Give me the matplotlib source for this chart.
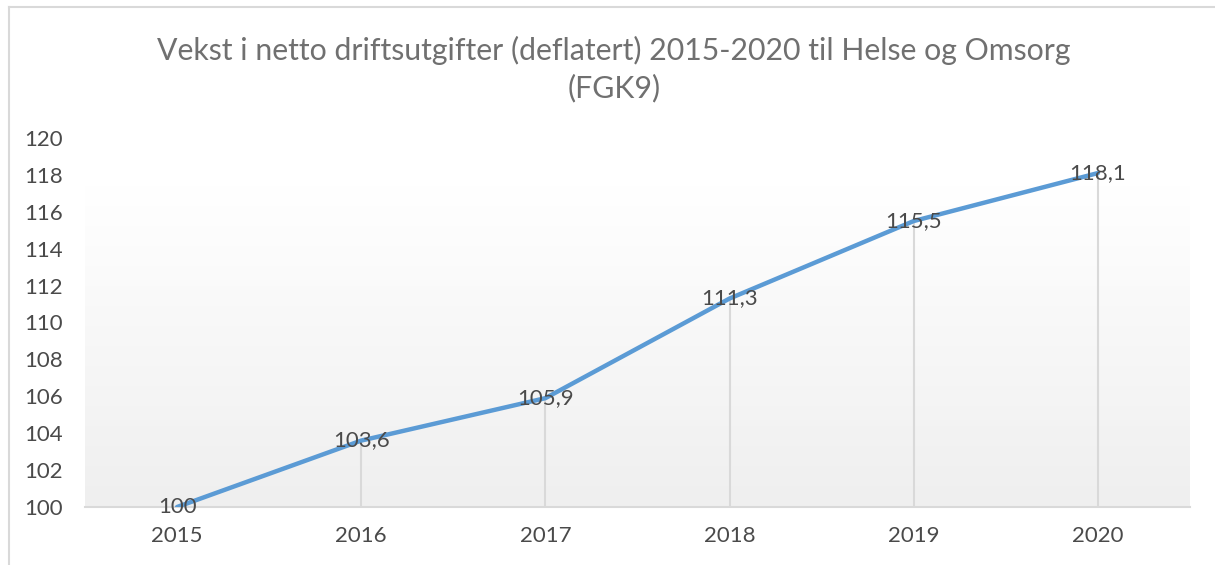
import numpy as np
import matplotlib.pyplot as plt
from matplotlib.colors import LinearSegmentedColormap
from matplotlib.lines import Line2D

years = ["2015", "2016", "2017", "2018", "2019", "2020"]
values = [100, 103.6, 105.9, 111.3, 115.5, 118.1]
value_labels = ["100", "103,6", "105,9", "111,3", "115,5", "118,1"]
yticks = list(range(100, 121, 2))

plt.rcParams["font.family"] = ["Lato", "DejaVu Sans"]

fig = plt.figure(figsize=(12.15, 5.65), dpi=100)
ax = fig.add_axes([85 / 1215, 1 - 507 / 565, 1105 / 1215, 369 / 565])

x = np.arange(len(years))
ax.set_xlim(-0.5, len(years) - 0.5)
ax.set_ylim(100, 120)

# gradient background of the plot area
grad = np.linspace(0, 1, 256).reshape(-1, 1)
cmap = LinearSegmentedColormap.from_list("g", ["#efefef", "#ffffff"])
ax.imshow(grad, cmap=cmap, extent=(-0.5, len(years) - 0.5, 100, 117.4),
          origin="lower", aspect="auto", zorder=0)

# drop lines
ax.vlines(x, 100, values, color="#d9d9d9", lw=1.5, zorder=1)
ax.plot(x, values, color="#5b9bd5", lw=3.2, solid_capstyle="round", zorder=3)

for xi, v, lab in zip(x, values, value_labels):
    ax.text(xi, v, lab, ha="center", va="center", fontsize=16, color="#4a4a4a", zorder=4)

for s in ["top", "right", "left"]:
    ax.spines[s].set_visible(False)
ax.spines["bottom"].set_color("#d9d9d9")
ax.spines["bottom"].set_linewidth(1.5)
ax.set_xticks(x)
ax.set_xticklabels(years)
ax.set_yticks(yticks)
ax.tick_params(length=0, labelsize=16, labelcolor="#4a4a4a")
ax.tick_params(axis="x", pad=14)
ax.tick_params(axis="y", pad=16)

title_kw = dict(ha="center", va="center", fontsize=21.8, color="#707070")
fig.text(614 / 1215, 1 - 50 / 565,
         "Vekst i netto driftsutgifter (deflatert) 2015-2020 til Helse og Omsorg", **title_kw)
fig.text(614 / 1215, 1 - 88 / 565, "(FGK9)", **title_kw)

# chart border
fig.add_artist(Line2D([9 / 1215, 1], [1 - 7 / 565, 1 - 7 / 565], transform=fig.transFigure,
                      color="#d9d9d9", lw=1.5))
fig.add_artist(Line2D([9 / 1215, 9 / 1215], [0, 1 - 7 / 565], transform=fig.transFigure,
                      color="#d9d9d9", lw=1.5))

fig.savefig("out.png", dpi=100)
